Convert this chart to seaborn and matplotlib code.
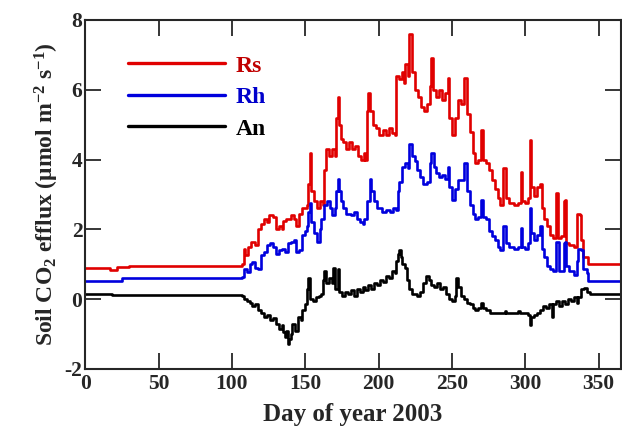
import matplotlib
matplotlib.use("Agg")
import matplotlib.pyplot as plt
import seaborn as sns

# change points (day, value); each value holds until the next day
rs_day = [0, 17, 22, 30, 107, 108, 109, 111, 113, 116, 118, 120, 122, 124, 125, 128, 130, 132, 134, 135,
          137, 140, 142, 144, 146, 148, 151, 152, 153, 154, 156, 158, 160, 162, 163, 164, 166, 168, 170, 171,
          172, 173, 174, 176, 178, 180, 182, 184, 186, 188, 190, 191, 192, 193, 194, 196, 198, 200, 203, 205,
          207, 209, 211, 212, 214, 216, 217, 218, 220, 221, 223, 225, 227, 229, 231, 233, 235, 236, 237, 239,
          241, 243, 245, 247, 248, 250, 252, 254, 256, 258, 260, 262, 264, 266, 268, 270, 271, 273, 275, 277,
          279, 281, 283, 285, 287, 289, 292, 295, 297, 298, 300, 302, 303, 304, 306, 308, 310, 311, 313, 315,
          317, 319, 321, 322, 324, 326, 327, 328, 330, 333, 335, 337, 338, 339, 343, 365]
rs_val = [0.88, 0.84, 0.93, 0.95, 1.0, 1.45, 1.25, 1.5, 1.65, 1.55, 2.0, 2.15, 2.3, 2.2, 2.4, 2.35, 2.0, 2.1, 2.0, 2.25,
          2.3, 2.4, 2.3, 2.1, 2.45, 2.6, 2.7, 3.3, 4.2, 3.1, 2.8, 2.6, 2.8, 2.7, 3.7, 4.3, 4.1, 4.3, 4.1, 5.2,
          5.8, 5.0, 4.6, 4.5, 4.3, 4.5, 4.3, 4.4, 4.1, 4.0, 4.2, 4.0, 5.4, 5.9, 5.4, 5.0, 4.9, 4.7, 4.85, 4.7,
          4.9, 4.75, 4.7, 6.4, 6.3, 6.5, 6.2, 6.75, 6.4, 7.6, 6.5, 6.0, 5.8, 5.5, 5.4, 5.6, 6.1, 6.9, 6.0, 5.8,
          6.0, 5.7, 5.9, 6.35, 5.2, 4.7, 5.2, 5.7, 5.6, 6.35, 5.3, 4.8, 4.2, 3.9, 4.0, 4.85, 4.0, 3.9, 3.7, 3.4,
          3.15, 2.9, 2.7, 3.75, 2.9, 2.75, 2.7, 2.75, 3.65, 2.8, 2.75, 2.9, 4.55, 3.2, 2.95, 3.2, 3.3, 2.6, 2.3, 2.1,
          1.85, 1.75, 3.05, 1.75, 1.8, 2.8, 2.85, 1.6, 1.55, 1.5, 2.45, 2.4, 1.7, 1.2, 1.0, 1.0]

rh_day = [0, 25, 107, 108, 110, 112, 114, 116, 118, 120, 122, 124, 126, 128, 130, 132, 134, 136, 138, 140,
          142, 144, 146, 148, 150, 151, 152, 153, 154, 156, 158, 160, 161, 163, 165, 167, 168, 170, 171, 172,
          173, 174, 176, 178, 181, 183, 185, 187, 189, 190, 192, 194, 195, 197, 199, 202, 205, 208, 210, 212,
          213, 214, 216, 218, 220, 221, 223, 225, 226, 228, 230, 233, 235, 236, 238, 239, 241, 243, 245, 247,
          248, 250, 252, 254, 256, 258, 260, 262, 264, 266, 268, 270, 271, 273, 275, 277, 279, 281, 283, 285,
          287, 289, 292, 295, 297, 298, 300, 302, 303, 304, 306, 308, 310, 311, 313, 315, 317, 319, 321, 323,
          326, 327, 328, 330, 333, 335, 336, 338, 339, 342, 343, 365]
rh_val = [0.52, 0.6, 0.62, 0.85, 0.77, 1.0, 1.06, 0.9, 0.85, 1.25, 1.35, 1.55, 1.62, 1.5, 1.3, 1.4, 1.45, 1.35, 1.6, 1.65,
          1.7, 1.35, 1.4, 1.85, 1.95, 2.1, 2.5, 2.75, 2.2, 1.9, 1.65, 2.0, 2.3, 2.7, 2.8, 2.6, 2.4, 2.6, 3.1, 3.45,
          3.1, 2.8, 2.6, 2.45, 2.4, 2.5, 2.3, 2.2, 2.15, 2.3, 2.8, 3.45, 3.1, 2.8, 2.6, 2.5, 2.55, 2.5, 2.6, 2.55,
          3.1, 3.35, 3.8, 3.9, 3.75, 4.45, 4.1, 3.95, 3.7, 3.5, 3.3, 3.35, 3.9, 4.2, 3.8, 3.6, 3.5, 3.55, 3.45, 3.8,
          3.2, 2.85, 3.15, 3.4, 3.4, 3.9, 3.1, 2.7, 2.45, 2.3, 2.35, 2.85, 2.35, 2.3, 1.95, 1.8, 1.7, 1.5, 1.4, 2.1,
          1.6, 1.5, 1.45, 1.5, 2.05, 1.5, 1.45, 1.6, 2.6, 1.9, 1.7, 1.85, 2.1, 1.45, 1.2, 0.95, 0.85, 0.8, 1.65, 0.8,
          1.6, 1.63, 0.95, 0.8, 0.7, 1.1, 1.45, 1.4, 0.85, 0.75, 0.52, 0.52]

an_day = [0, 18, 107, 108, 110, 112, 114, 116, 118, 120, 122, 124, 126, 128, 130, 132, 134, 135, 136, 137,
          138, 139, 140, 141, 143, 145, 147, 148, 150, 151, 152, 153, 155, 157, 159, 161, 162, 163, 164, 166,
          168, 169, 170, 172, 173, 175, 177, 179, 181, 183, 185, 187, 189, 191, 193, 195, 197, 199, 201, 203,
          205, 207, 209, 211, 212, 213, 214, 215, 216, 218, 219, 221, 223, 226, 228, 230, 232, 234, 236, 238,
          240, 242, 244, 246, 248, 250, 252, 253, 254, 256, 258, 260, 262, 264, 266, 268, 270, 271, 273, 276,
          286, 287, 295, 296, 302, 303, 304, 306, 308, 310, 312, 314, 316, 318, 319, 321, 323, 325, 327, 329,
          331, 333, 335, 336, 338, 340, 342, 344, 365]
an_val = [0.16, 0.12, 0.1, 0.0, -0.05, -0.1, -0.2, -0.15, -0.3, -0.4, -0.5, -0.45, -0.6, -0.55, -0.7, -0.85, -0.75, -0.95, -1.1, -0.9,
          -1.3, -1.15, -1.0, -0.7, -0.9, -0.5, -0.6, -0.3, -0.15, 0.3, 0.6, 0.0, -0.05, 0.05, 0.1, 0.15, 0.55, 0.8, 0.45, 0.6,
          0.45, 0.9, 0.3, 0.85, 0.2, 0.1, 0.2, 0.15, 0.25, 0.1, 0.3, 0.2, 0.35, 0.25, 0.4, 0.3, 0.45, 0.4, 0.55, 0.5,
          0.65, 0.6, 0.8, 0.75, 1.1, 1.3, 1.4, 1.2, 1.0, 0.9, 0.55, 0.3, 0.15, 0.1, 0.2, 0.45, 0.65, 0.55, 0.4, 0.35,
          0.45, 0.3, 0.35, 0.15, 0.0, -0.05, 0.1, 0.6, 0.35, 0.1, 0.0, -0.1, -0.15, -0.25, -0.3, -0.25, -0.1, -0.25, -0.3, -0.4,
          -0.35, -0.4, -0.35, -0.4, -0.45, -0.75, -0.5, -0.45, -0.4, -0.3, -0.2, -0.25, -0.15, -0.5, -0.15, -0.05, -0.2, -0.05, -0.15, 0.0,
          -0.05, 0.05, -0.1, 0.05, 0.3, 0.32, 0.2, 0.15, 0.15]

x_ticks = [0, 50, 100, 150, 200, 250, 300, 350]
y_ticks = [-2, 0, 2, 4, 6, 8]

sns.set_style("ticks")
plt.rcParams['font.family'] = ['Liberation Serif', 'DejaVu Serif']
plt.rcParams['font.weight'] = 'bold'
plt.rcParams['axes.unicode_minus'] = False
plt.rcParams['mathtext.fontset'] = 'custom'
plt.rcParams['mathtext.rm'] = 'Liberation Serif:bold'
plt.rcParams['mathtext.it'] = 'Liberation Serif:bold'
plt.rcParams['mathtext.bf'] = 'Liberation Serif:bold'

fig = plt.figure(figsize=(6.22, 4.34), dpi=100)
ax = fig.add_axes([0.137, 0.15, 0.861, 0.804])

sns.lineplot(x=rs_day, y=rs_val, drawstyle='steps-post', color='#e00000', lw=1.9, label='Rs', ax=ax)
sns.lineplot(x=rh_day, y=rh_val, drawstyle='steps-post', color='#0000dd', lw=1.9, label='Rh', ax=ax)
sns.lineplot(x=an_day, y=an_val, drawstyle='steps-post', color='black', lw=1.9, label='An', ax=ax)

ax.set_xlim(0, 365)
ax.set_ylim(-2, 8)
ax.set_xticks(x_ticks)
ax.set_yticks(y_ticks)
ax.tick_params(direction='in', length=11.5, width=1.3, labelsize=15.5, top=True, right=True)
ax.tick_params(axis='x', pad=4)
ax.tick_params(axis='y', pad=2)
for sp in ax.spines.values():
    sp.set_linewidth(1.5)

ax.set_xlabel("Day of year 2003", fontsize=18, fontweight='bold', labelpad=6)
ax.set_ylabel("Soil CO$_2$ efflux ($\\mu$mol m$^{-2}$ s$^{-1}$)", fontsize=17, fontweight='bold', labelpad=3)

leg = ax.legend(loc='upper left', bbox_to_anchor=(0.04, 0.96), frameon=False, handlelength=4.1,
                handletextpad=0.45, labelspacing=0.42, prop={'size': 17, 'weight': 'bold'})
for txt, c in zip(leg.get_texts(), ['#c00000', '#0000cc', 'black']):
    txt.set_color(c)
for h in leg.get_lines():
    h.set_linewidth(2.4)

fig.savefig("out.png", dpi=100)
